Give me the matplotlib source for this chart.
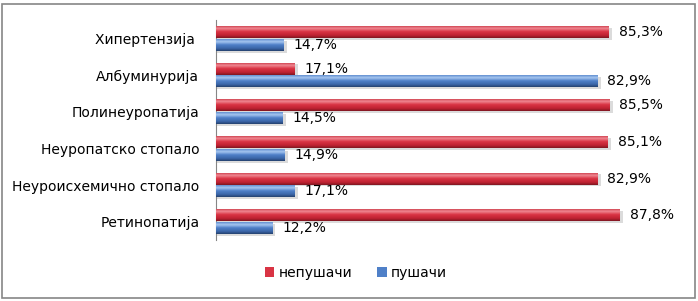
import matplotlib.pyplot as plt
import numpy as np
from matplotlib.colors import LinearSegmentedColormap
from matplotlib.patches import Rectangle

plt.rcParams['font.family'] = ['DejaVu Sans']

categories = ['Хипертензија ', 'Албуминурија', 'Полинеуропатија', 'Неуропатско стопало',
              'Неуроисхемично стопало', 'Ретинопатија']
nepusaci = [85.3, 17.1, 85.5, 85.1, 82.9, 87.8]
pusaci = [14.7, 82.9, 14.5, 14.9, 17.1, 12.2]
series_names = ['непушачи', 'пушачи']

# colour ramps from top of the bar to its bottom
red_cmap = LinearSegmentedColormap.from_list(
    'r', [(0, '#c42c3a'), (0.25, '#f08892'), (0.5, '#d93444'), (0.8, '#bf2232'), (1, '#7e1620')])
blue_cmap = LinearSegmentedColormap.from_list(
    'b', [(0, '#4a7cc4'), (0.28, '#a6c6f0'), (0.52, '#4f80c8'), (0.8, '#3b66a8'), (1, '#25416e')])

fig = plt.figure(figsize=(6.98, 3.01), dpi=100)
ax = fig.add_axes([216/698, 61/301, 460/698, 220/301])

y = np.arange(len(categories))
h = 0.33
off = 0.175


def gradient_bars(bars, cmap):
    grad = np.linspace(0, 1, 64).reshape(-1, 1)
    for b in bars:
        x0, y0 = b.get_x(), b.get_y()
        w, hh = b.get_width(), b.get_height()
        # soft shadow under the bar
        ax.add_patch(Rectangle((x0, y0 + 0.05), w + 0.7, hh, color='#c4c4c4', alpha=0.6, zorder=1, lw=0))
        im = ax.imshow(grad, cmap=cmap, aspect='auto', extent=(x0, x0 + w, y0 + hh, y0),
                       origin='upper', zorder=3, interpolation='bilinear')
        im.set_clip_path(b)


b1 = ax.barh(y - off, nepusaci, height=h, color='#d93444', zorder=2, label=series_names[0])
b2 = ax.barh(y + off, pusaci, height=h, color='#4f80c8', zorder=2, label=series_names[1])
gradient_bars(b1, red_cmap)
gradient_bars(b2, blue_cmap)

for v, yy in zip(nepusaci, y - off):
    ax.text(v + 2.2, yy, f'{v:.1f}%'.replace('.', ','), va='center', ha='left', fontsize=10)
for v, yy in zip(pusaci, y + off):
    ax.text(v + 2.2, yy, f'{v:.1f}%'.replace('.', ','), va='center', ha='left', fontsize=10)

ax.set_xlim(0, 100)
ax.set_ylim(len(categories) - 0.5, -0.5)
ax.set_yticks(y)
ax.set_yticklabels(categories, fontsize=10)
ax.tick_params(axis='y', length=0, pad=12)
ax.set_xticks([])
for s in ['top', 'right', 'bottom']:
    ax.spines[s].set_visible(False)
ax.spines['left'].set_color('#868686')

fig.legend(handles=[b1, b2], labels=series_names, loc='center', bbox_to_anchor=(0.51, 1 - 273/301),
           ncol=2, frameon=False, fontsize=10, handlelength=0.7, handleheight=0.7,
           columnspacing=1.8, handletextpad=0.3)

fig.add_artist(Rectangle((2/698, 3/301), 693/698, 294/301, transform=fig.transFigure,
                         fill=False, edgecolor='#868686', lw=1.2))

fig.savefig('out.png', dpi=100)
